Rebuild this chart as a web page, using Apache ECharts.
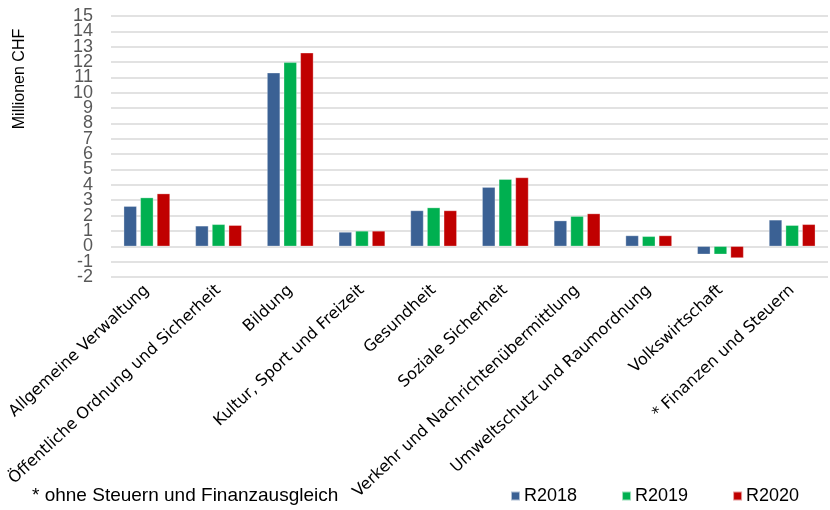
<!DOCTYPE html>
<html><head><meta charset="utf-8">
<script src="https://cdn.jsdelivr.net/npm/echarts@6/dist/echarts.min.js"></script>
<style>html,body{margin:0;padding:0;background:#fff}#c{width:830px;height:510px}</style>
</head><body><div id="c"></div>
<script>
var categories = ["Allgemeine Verwaltung","Öffentliche Ordnung und Sicherheit","Bildung","Kultur, Sport und Freizeit","Gesundheit","Soziale Sicherheit","Verkehr und Nachrichtenübermittlung","Umweltschutz und Raumordnung","Volkswirtschaft","* Finanzen und Steuern"];
var r2018 = [2.61, 1.33, 11.3, 0.93, 2.33, 3.85, 1.67, 0.70, -0.52, 1.72];
var r2019 = [3.17, 1.43, 11.98, 1.0, 2.52, 4.37, 1.96, 0.65, -0.52, 1.37];
var r2020 = [3.43, 1.37, 12.6, 1.0, 2.33, 4.48, 2.13, 0.70, -0.76, 1.43];
var seriesNames = ["R2018","R2019","R2020"];
var colors = ["#3B6194","#00B050","#C00000"];
var yTitle = "Millionen CHF";
var footnote = "* ohne Steuern und Finanzausgleich";
var yMin = -2, yMax = 15;

var chart = echarts.init(document.getElementById('c'));
var data = [r2018, r2019, r2020];
var yLabelStyle = {margin: 18, fontFamily: 'Liberation Sans', fontSize: 18, color: '#595959'};
chart.setOption({
  animation: false,
  grid: {left: 111, right: 2, top: 16, bottom: 233, containLabel: false},
  legend: {
    data: seriesNames, left: 505, top: 482, itemWidth: 9, itemHeight: 9, itemGap: 44,
    icon: 'rect',
    textStyle: {fontFamily: 'Liberation Sans', fontSize: 18, color: '#000', padding: [0,0,0,-1]}
  },
  xAxis: {
    type: 'category', data: categories,
    axisLine: {show: false}, axisTick: {show: false},
    axisLabel: {interval: 0, rotate: 43, margin: 11, fontFamily: 'DejaVu Sans', fontSize: 16, color: '#000'}
  },
  yAxis: [{
    type: 'value', min: yMin, max: yMax, interval: 1,
    axisLine: {show: false}, axisTick: {show: false},
    axisLabel: Object.assign({showMinLabel: true, showMaxLabel: true}, yLabelStyle),
    splitLine: {lineStyle: {color: '#D9D9D9', width: 1.5}}
  }, {
    type: 'value', min: yMin, max: yMax, interval: 1, position: 'left',
    axisLine: {show: false}, axisTick: {show: false}, splitLine: {show: false},
    axisLabel: Object.assign({showMinLabel: false, showMaxLabel: false,
      formatter: function(v){ return (v === yMin + 1 || v === yMax - 1) ? String(v) : ''; }}, yLabelStyle)
  }],
  graphic: [
    {type: 'text', x: 20, y: 79, rotation: Math.PI/2,
     style: {text: yTitle, font: '16px "Liberation Sans"', fill: '#000', textAlign: 'center', textVerticalAlign: 'middle'}},
    {type: 'text', x: 32, y: 496,
     style: {text: footnote, font: '19px "Liberation Sans"', fill: '#000', textAlign: 'left', textVerticalAlign: 'middle'}}
  ],
  series: seriesNames.map(function(n, i){
    return {name: n, type: 'bar', data: data[i], barWidth: 13, barGap: '28%', yAxisIndex: 0,
      itemStyle: {color: colors[i], borderColor: 'rgba(255,255,255,0.6)', borderWidth: 0.5}};
  })
});
</script></body></html>
